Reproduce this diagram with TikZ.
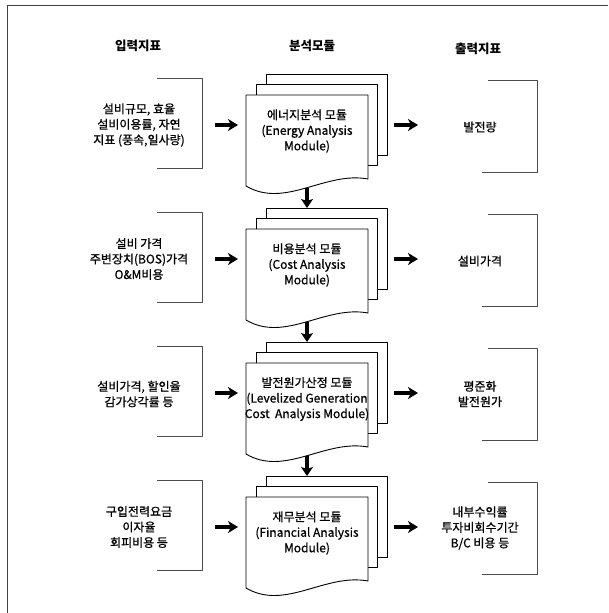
\documentclass[tikz,border=0pt]{standalone}
\usepackage{fontspec}
\setmainfont{Noto Sans CJK KR}
\newfontfamily\bodyfont{Noto Sans CJK KR}[FakeBold=0.8]
\usetikzlibrary{arrows.meta}
\begin{document}
\begin{tikzpicture}[x=1pt,y=-1pt,line join=round,
  frame/.style={draw=black!75,line width=0.9pt},
  hdr/.style={font=\fontsize{12.5}{14}\selectfont\bfseries,inner sep=0pt},
  txt/.style={font=\bodyfont\fontsize{12}{15.5}\selectfont,align=center,inner sep=0pt},
  brk/.style={draw=black!70,line width=0.8pt},
  sheet/.style={draw=black,line width=0.9pt,fill=white},
  harrow/.style={draw=black,line width=3.4pt,-{Stealth[length=10pt,width=12pt,inset=3pt]}},
  varrow/.style={draw=black,line width=3.5pt,-{Stealth[length=9pt,width=12pt,inset=2pt]}}]
\useasboundingbox (0,0) rectangle (608,613);
\fill[white] (0,0) rectangle (608,613);
\draw[frame] (7,613) -- (7,5) -- (608,5);
% headers
\node[hdr] (h1) at (138,46) {입력지표};
\node[hdr] (h2) at (312,46) {분석모듈};
\node[hdr] (h3) at (478,49) {출력지표};
% modules (back, middle, front) and brackets for each row; \M = module text centre, \T = side text centre
\foreach \M/\T/\n in {131/125/1,265/259/2,399/393/3,533/527/4}{
  \draw[sheet] (266,\M-57) rectangle (387,\M+24);
  \draw[sheet] (256,\M-47) rectangle (377,\M+34);
  \draw[sheet] (246,\M-36) -- (368,\M-36) -- (368,\M+48)
     .. controls (325,\M+40) and (285,\M+78) .. (246,\M+55) -- cycle;
  \coordinate (fb\n) at (307,\M+57);
  \coordinate (bt\n) at (307,\M-57);
  % input bracket
  \draw[brk] (157,\T-47) -- (202,\T-47) -- (202,\T+43) -- (157,\T+43);
  % output bracket
  \draw[brk] (488,\T-45) -- (537,\T-45) -- (537,\T+47) -- (482,\T+47);
  \coordinate (ia\n) at (215,\T);
  \coordinate (ib\n) at (238,\T);
  \coordinate (oa\n) at (394,\T);
  \coordinate (ob\n) at (418,\T);
}
% module texts
\node[txt] (m1) at (307,131) {에너지분석 모듈\\(Energy Analysis\\Module)};
\node[txt] (m2) at (307,265) {비용분석 모듈\\(Cost Analysis\\Module)};
\node[txt] (m3) at (307,399) {발전원가산정 모듈\\(Levelized Generation\\Cost\ \ Analysis Module)};
\node[txt] (m4) at (307,533) {재무분석 모듈\\(Financial Analysis\\Module)};
% input texts
\node[txt] (i1) at (139,125) {설비규모, 효율\\설비이용률, 자연\\지표 (풍속,일사량)};
\node[txt] (i2) at (139,259) {설비 가격\\주변장치(BOS)가격\\O\&M비용};
\node[txt] (i3) at (139,394) {설비가격, 할인율\\감가상각률 등};
\node[txt] (i4) at (139,527) {구입전력요금\\이자율\\회피비용 등};
% output texts
\node[txt] (o1) at (480,127) {발전량};
\node[txt] (o2) at (480,261) {설비가격};
\node[txt] (o3) at (480,394) {평준화\\발전원가};
\node[txt] (o4) at (480,528) {내부수익률\\투자비회수기간\\B/C 비용 등};
% arrows
\foreach \n in {1,2,3,4}{
  \draw[harrow] (ia\n) -- (ib\n);
  \draw[harrow] (oa\n) -- (ob\n);
}
\draw[varrow] (fb1) -- (bt2);
\draw[varrow] (fb2) -- (bt3);
\draw[varrow] (fb3) -- (bt4);
\end{tikzpicture}
\end{document}
